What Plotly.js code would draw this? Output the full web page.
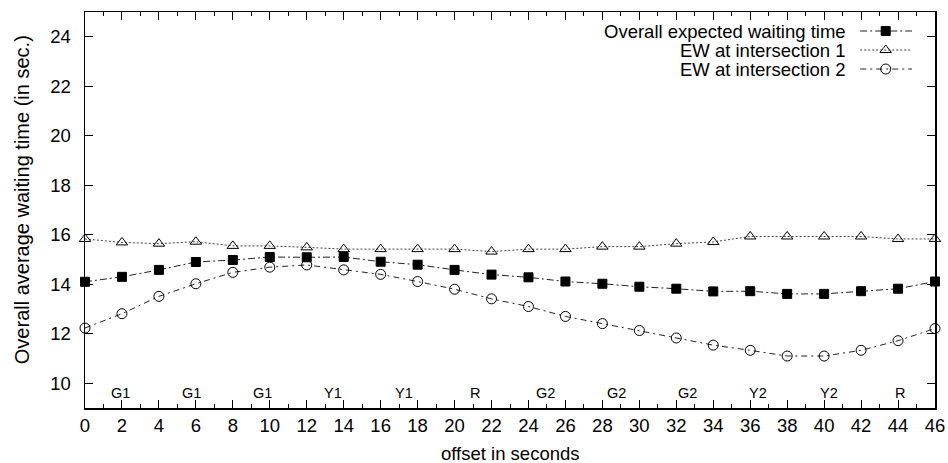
<!DOCTYPE html>
<html>
<head>
<meta charset="utf-8">
<script src="https://cdn.plot.ly/plotly-3.0.1.min.js"></script>
<style>html,body{margin:0;padding:0;background:#fff;}#chart{width:948px;height:463px;}</style>
</head>
<body>
<div id="chart"></div>
<script>
// ---- data ----
const offsets = [0,2,4,6,8,10,12,14,16,18,20,22,24,26,28,30,32,34,36,38,40,42,44,46];
const overallEW = [14.1,14.3,14.58,14.9,14.98,15.1,15.09,15.1,14.91,14.79,14.58,14.39,14.28,14.11,14.02,13.9,13.82,13.71,13.72,13.61,13.61,13.72,13.82,14.11];
const ew1 = [15.83,15.69,15.64,15.72,15.55,15.55,15.49,15.42,15.42,15.42,15.42,15.32,15.42,15.42,15.52,15.52,15.64,15.71,15.93,15.93,15.93,15.93,15.83,15.83];
const ew2 = [12.23,12.81,13.51,14.02,14.48,14.69,14.78,14.58,14.4,14.11,13.8,13.41,13.1,12.7,12.41,12.13,11.83,11.54,11.33,11.1,11.1,11.33,11.72,12.21];
const seriesNames = ["Overall expected waiting time","EW at intersection 1","EW at intersection 2"];
const phaseLabels = ["G1","G1","G1","Y1","Y1","R","G2","G2","G2","Y2","Y2","R"];
const xTicks = [0,2,4,6,8,10,12,14,16,18,20,22,24,26,28,30,32,34,36,38,40,42,44,46];
const yTicks = [10,12,14,16,18,20,22,24];
const xTitle = "offset in seconds";
const yTitle = "Overall average waiting time (in sec.)";

// ---- styles ----
const FONT = "Liberation Sans, Arial, Helvetica, sans-serif";
const FS = 18.5;
const styles = [
  {dash:"7px,3px,2px,3px", color:"#222", symbol:"square", size:9, mcolor:"#000", lw:1},
  {dash:"2px,2px", color:"#444", symbol:"triangle-up-open", size:10, mcolor:"#000", lw:1},
  {dash:"6px,4px,2px,4px", color:"#222", symbol:"circle-open", size:10, mcolor:"#000", lw:1}
];
const seriesY = [overallEW, ew1, ew2];

const traces = seriesY.map((ys, i) => ({
  x: offsets, y: ys, type: "scatter", mode: "lines+markers", name: seriesNames[i],
  line: {color: styles[i].color, width: styles[i].lw, dash: styles[i].dash},
  marker: {symbol: styles[i].symbol, size: styles[i].size, color: styles[i].mcolor,
           line: {color: styles[i].mcolor, width: 1}},
  showlegend: false, cliponaxis: false
}));

// legend keys drawn on an overlay axis (paper-like 0..1)
const legRows = [0.952, 0.904, 0.856];
const legX0 = 0.912, legX1 = 0.973, legXm = 0.942;
seriesY.forEach((_, i) => {
  traces.push({x:[legX0, legX1], y:[legRows[i], legRows[i]], xaxis:"x2", yaxis:"y2", mode:"lines",
    line:{color:styles[i].color, width:styles[i].lw, dash:styles[i].dash}, showlegend:false, hoverinfo:"skip"});
  traces.push({x:[legXm], y:[legRows[i]], xaxis:"x2", yaxis:"y2", mode:"markers",
    marker:{symbol:styles[i].symbol, size:styles[i].size, color:styles[i].mcolor, line:{color:styles[i].mcolor,width:1}},
    showlegend:false, hoverinfo:"skip"});
});

const xMax = 46;
const annotations = phaseLabels.map((t, i) => ({
  x: (i + 0.5) * xMax / phaseLabels.length, y: 9.62, xref: "x", yref: "y",
  text: t, showarrow: false, xanchor: "center", yanchor: "middle",
  font: {family: FONT, size: 14.5, color: "#000"}
}));
seriesNames.forEach((n, i) => annotations.push({
  x: 0.898, y: legRows[i], xref: "paper", yref: "paper", text: n, showarrow: false,
  xanchor: "right", yanchor: "middle", font: {family: FONT, size: FS, color: "#000"}
}));
// y-axis title
annotations.push({
  x: -0.074, y: 0.525, xref: "paper", yref: "paper", text: yTitle, showarrow: false,
  textangle: -90, xanchor: "center", yanchor: "middle", font: {family: FONT, size: 20, color: "#000"}
});
// x-axis title
annotations.push({
  x: 0.5, y: -0.115, xref: "paper", yref: "paper", text: xTitle, showarrow: false,
  xanchor: "center", yanchor: "middle", font: {family: FONT, size: FS, color: "#000"}
});

const layout = {
  width: 948, height: 463,
  margin: {l: 85, r: 13, t: 12, b: 55},
  paper_bgcolor: "#fff", plot_bgcolor: "#fff",
  font: {family: FONT, size: FS, color: "#000"},
  showlegend: false,
  xaxis: {
    range: [0, 46], tickvals: xTicks, ticktext: xTicks.map(String),
    ticks: "inside", ticklen: 8, tickwidth: 1, tickcolor: "#000",
    minor: {tickvals: Array.from({length: 47}, (_, k) => k), ticks: "inside", ticklen: 4, tickcolor: "#000"},
    showline: true, linecolor: "#000", linewidth: 1.5, mirror: "allticks",
    showgrid: false, zeroline: false,
    tickfont: {family: FONT, size: FS}
  },
  yaxis: {
    range: [9, 25], tickvals: yTicks, ticktext: yTicks.map(String),
    ticks: "inside", ticklen: 8, tickwidth: 1, tickcolor: "#000",
    showline: true, linecolor: "#000", linewidth: 1.5, mirror: "allticks",
    showgrid: false, zeroline: false, ticklabelstandoff: 9,
    tickfont: {family: FONT, size: FS}
  },
  xaxis2: {overlaying: "x", range: [0, 1], visible: false, fixedrange: true},
  yaxis2: {overlaying: "y", range: [0, 1], visible: false, fixedrange: true},
  annotations: annotations
};

Plotly.newPlot("chart", traces, layout, {displayModeBar: false, staticPlot: true});
</script>
</body>
</html>
